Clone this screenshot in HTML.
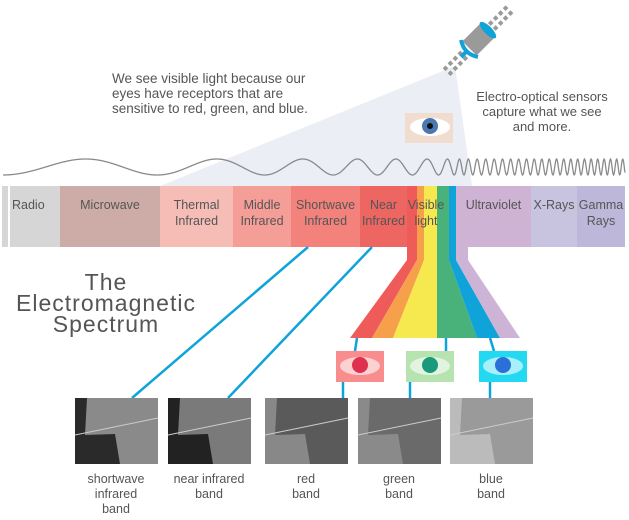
<!DOCTYPE html>
<html><head><meta charset="utf-8"><style>
body{margin:0;background:#fff}
svg{display:block;font-family:"Liberation Sans",sans-serif}
</style></head><body>
<svg width="629" height="520" viewBox="0 0 629 520">
<polygon points="160,186 455,66 472,186" fill="#eceef6"/>
<path id="wave" fill="none" stroke="#8a8a8a" stroke-width="1.3"/>
<g id="bar"></g>
<polygon points="407,247 417,247 417,260 372,338 350,338 407,260" fill="#ee5b58"/>
<polygon points="417,247 424,247 424,260 393,338 372,338 417,260" fill="#f7a04c"/>
<polygon points="424,247 437,247 437,338 393,338 424,260" fill="#f6e84f"/>
<polygon points="437,247 449,247 449,260 477,338 437,338" fill="#48b27a"/>
<polygon points="449,247 456,247 456,260 500,338 477,338 449,260" fill="#0fa3d9"/>
<polygon points="456,247 468,247 468,260 520,338 500,338 456,260" fill="#cdb3d6"/>
<g stroke="#0fa3d9" stroke-width="2.5">
<line x1="308" y1="247" x2="132" y2="398"/>
<line x1="372" y1="247" x2="228" y2="398"/>
<line x1="357" y1="338" x2="355" y2="351"/>
<line x1="343" y1="382" x2="343" y2="398"/>
<line x1="446" y1="338" x2="446" y2="351"/>
<line x1="410" y1="382" x2="410" y2="398"/>
<line x1="490" y1="338" x2="494" y2="351"/>
<line x1="490" y1="382" x2="490" y2="398"/>
</g>
<g transform="translate(478,40) rotate(45)">
<g fill="#9a9a9a">
<rect x="-5" y="-44" width="4" height="4"/><rect x="2" y="-44" width="4" height="4"/>
<rect x="-5" y="-37" width="4" height="4"/><rect x="2" y="-37" width="4" height="4"/>
<rect x="-5" y="-30" width="4" height="4"/><rect x="2" y="-30" width="4" height="4"/>
<rect x="-5" y="-23" width="4" height="4"/><rect x="2" y="-23" width="4" height="4"/>
<rect x="-5" y="20" width="4" height="4"/><rect x="2" y="20" width="4" height="4"/>
<rect x="-5" y="27" width="4" height="4"/><rect x="2" y="27" width="4" height="4"/>
<rect x="-5" y="34" width="4" height="4"/><rect x="2" y="34" width="4" height="4"/>
<rect x="-5" y="41" width="4" height="4"/><rect x="2" y="41" width="4" height="4"/>
<rect x="-10" y="-14" width="20" height="26"/>
</g>
<ellipse cx="0" cy="-14" rx="11" ry="4" fill="#0fa3d9"/>
<path d="M-12 12 Q0 20 12 12" fill="none" stroke="#0fa3d9" stroke-width="4"/>
<rect x="-2" y="16" width="4" height="8" fill="#0fa3d9"/>
</g>
<g>
<rect x="405" y="113" width="48" height="30" fill="#f1ddd0"/>
<ellipse cx="430" cy="127" rx="20" ry="9" fill="#fff"/>
<circle cx="430" cy="126" r="8" fill="#4a78b0"/><circle cx="430" cy="126" r="3" fill="#111"/>
</g>
<g fill="#555" font-size="13.5">
<text x="112" y="83">We see visible light because our</text>
<text x="112" y="98">eyes have receptors that are</text>
<text x="112" y="113">sensitive to red, green, and blue.</text>
</g>
<g fill="#555" font-size="13" text-anchor="middle">
<text x="542" y="101">Electro-optical sensors</text>
<text x="542" y="116">capture what we see</text>
<text x="542" y="131">and more.</text>
</g>
<g fill="#555" font-size="23" text-anchor="middle" letter-spacing="1">
<text x="106" y="290">The</text>
<text x="106" y="311">Electromagnetic</text>
<text x="106" y="332">Spectrum</text>
</g>
<g id="eyes"></g>
<g id="thumbs"></g>
</svg>
<script>
const segLabels=[["Radio"],["Microwave"],["Thermal","Infrared"],["Middle","Infrared"],["Shortwave","Infrared"],["Near","Infrared"],[],[],[],[],[],["Ultraviolet"],["X-Rays"],["Gamma","Rays"]];
const segEdges=[10,60,160,233,291,360,407,417,424,437,449,456,531,577,625];
const segColors=["#d6d6d6","#cdaca7","#f6bdb7","#f59e97","#f2827b","#ee6662","#ee5b58","#f7a04c","#f6e84f","#48b27a","#0fa3d9","#cfb3d5","#c8c3df","#bdb8d9"];
const NS="http://www.w3.org/2000/svg";
const bar=document.getElementById('bar');
function mk(t,a,p){const e=document.createElementNS(NS,t);for(const k in a)e.setAttribute(k,a[k]);(p||bar).appendChild(e);return e;}
const ed=mk('rect',{x:2,y:186,width:6,height:61,fill:'#d6d6d6'});


for(let i=0;i<segColors.length;i++){
 const r=mk('rect',{x:segEdges[i],y:186,width:segEdges[i+1]-segEdges[i],height:61,fill:segColors[i]});
 
 
 const L=segLabels[i];
 L.forEach((s,j)=>{const cx=i===0?12:(segEdges[i]+segEdges[i+1])/2;
  const t=mk('text',{x:cx,y:209+j*16,'font-size':12.5,fill:'#555','text-anchor':i===0?'start':'middle'});t.textContent=s;
  
  });
}
const vl=[["Visible",426],["light",426]];
vl.forEach((v,j)=>{const t=mk('text',{x:v[1],y:209+j*16,'font-size':12.5,fill:'#555','text-anchor':'middle'});t.textContent=v[0];

});
// wave with period table
const wx=[0,165,270,360,420,460,625],wp=[180,130,83,42,30,9,6];
function per(x){for(let i=0;i<wx.length-1;i++){if(x<=wx[i+1]){const t=(x-wx[i])/(wx[i+1]-wx[i]);return wp[i]+t*(wp[i+1]-wp[i]);}}return 6;}
let d='',ph=0;
for(let x=3;x<=625;x+=0.5){ph+=2*Math.PI*0.5/per(x);const y=167+8*Math.cos(ph);d+=(x===3?'M':'L')+x+' '+y.toFixed(2);}
document.getElementById('wave').setAttribute('d',d);
// eyes
const eyesG=document.getElementById('eyes');
const eyeX=[336,406,479],eyeBg=["#f98c8c","#b6e3b0","#23d9f2"],eyeIr=["#e03050","#1a9a7a","#2a70d8"];
eyeX.forEach((x,i)=>{const g=mk('g',{},eyesG);


mk('rect',{x:x,y:351,width:48,height:31,fill:eyeBg[i]},g);
mk('ellipse',{cx:x+24,cy:366,rx:20,ry:9,fill:'#fff','fill-opacity':0.6},g);
mk('circle',{cx:x+24,cy:365,r:8,fill:eyeIr[i]},g);});
// thumbnails
const thG=document.getElementById('thumbs');
const thX=[75,168,265,358,450],thFill=["#8a8a8a","#7a7a7a","#5a5a5a","#6a6a6a","#9a9a9a"],thW=["#2a2a2a","#222","#888","#8a8a8a","#bbb"];
const labels=[["shortwave","infrared","band"],["near infrared","band"],["red","band"],["green","band"],["blue","band"]];
thX.forEach((x,i)=>{const g=mk('g',{},thG);


mk('rect',{x:x,y:398,width:83,height:66,fill:thFill[i]},g);
mk('path',{d:`M${x} 398 L${x+12} 398 L${x+10} 435 L${x+40} 434 L${x+45} 464 L${x} 464Z`,fill:thW[i]},g);
mk('line',{x1:x,y1:435,x2:x+83,y2:418,stroke:'#ccc','stroke-width':1},g);
labels[i].forEach((s,j)=>{const t=mk('text',{x:x+41,y:483+j*15,'font-size':12.5,fill:'#555','text-anchor':'middle'},g);t.textContent=s;});});
</script>
</body></html>
